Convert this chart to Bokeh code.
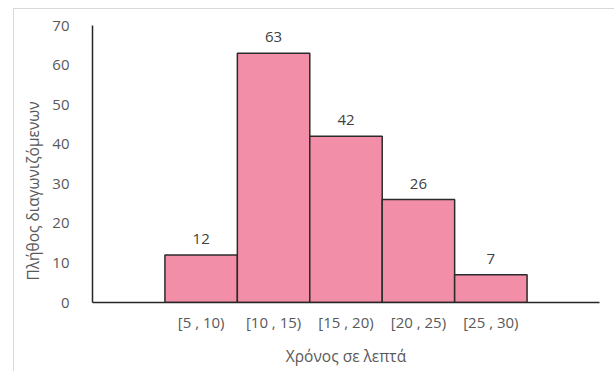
from bokeh.plotting import figure
from bokeh.models import (ColumnDataSource, FixedTicker, Title, InlineStyleSheet)
from bokeh.core.properties import value
from bokeh.embed import file_html
from bokeh.resources import INLINE

# data
left_edges = [5, 10, 15, 20, 25]
right_edges = [10, 15, 20, 25, 30]
counts = [12, 63, 42, 26, 7]
class_labels = ["[5 , 10)", "[10 , 15)", "[15 , 20)", "[20 , 25)", "[25 , 30)"]
y_ticks = [0, 10, 20, 30, 40, 50, 60, 70]
x_title = "Χρόνος σε λεπτά"
y_title = "Πλήθος διαγωνιζόμενων"

centers = [(a + b) / 2 for a, b in zip(left_edges, right_edges)]
src = ColumnDataSource(dict(left=left_edges, right=right_edges, top=counts,
                            bottom=[0] * len(counts), x=centers,
                            txt=[str(c) for c in counts]))

FONT = "Open Sans"
GREY = "#595959"

border_css = InlineStyleSheet(css="""
:host { position: relative; }
:host::after {
  content: ''; position: absolute; left: 13px; top: 8px; right: -20px; bottom: -20px;
  border-left: 1px solid #D9D9D9; border-top: 1px solid #D9D9D9;
  pointer-events: none;
}
""")

p = figure(width=614, height=371, output_backend="svg", toolbar_location=None,
           x_range=(0, 35), y_range=(0, 70),
           min_border_left=92, min_border_right=15, min_border_top=25, min_border_bottom=69,
           stylesheets=[border_css])
p.background_fill_color = "white"
p.border_fill_color = "white"
p.outline_line_color = None
p.xgrid.visible = False
p.ygrid.visible = False

p.quad(left="left", right="right", top="top", bottom="bottom", source=src,
       fill_color="#F28EA8", line_color="#2b2b2b", line_width=1.5)

p.text(x="x", y="top", text="txt", source=src, text_align="center",
       text_baseline="alphabetic", y_offset=-16, text_font=value(FONT),
       text_font_size="15px", text_color="#404040")

# x axis
p.xaxis.ticker = FixedTicker(ticks=centers)
p.xaxis.major_label_overrides = {c: l for c, l in zip(centers, class_labels)}
p.xaxis.major_tick_line_color = None
p.xaxis.minor_tick_line_color = None
p.xaxis.major_label_standoff = 3
p.xaxis.axis_line_color = "#262626"
p.xaxis.axis_line_width = 1.5
p.xaxis.major_label_text_font = FONT
p.xaxis.major_label_text_font_size = "15px"
p.xaxis.major_label_text_color = GREY
p.xaxis.axis_label = x_title
p.xaxis.axis_label_standoff = 10
p.xaxis.axis_label_text_font = FONT
p.xaxis.axis_label_text_font_style = "normal"
p.xaxis.axis_label_text_font_size = "15.5px"
p.xaxis.axis_label_text_color = GREY

# y axis
p.yaxis.ticker = FixedTicker(ticks=y_ticks)
p.yaxis.major_tick_line_color = None
p.yaxis.minor_tick_line_color = None
p.yaxis.major_label_standoff = 17
p.yaxis.axis_line_color = "#262626"
p.yaxis.axis_line_width = 1.5
p.yaxis.major_label_text_font = FONT
p.yaxis.major_label_text_font_size = "15px"
p.yaxis.major_label_text_color = GREY

# y title as a left-side Title, starting just above the x axis
p.add_layout(Title(text=y_title, align="left", offset=22, standoff=12,
                   text_font=FONT, text_font_style="normal", text_font_size="15.5px",
                   text_color=GREY), "left")

open("out.html", "w").write(file_html(p, INLINE))
